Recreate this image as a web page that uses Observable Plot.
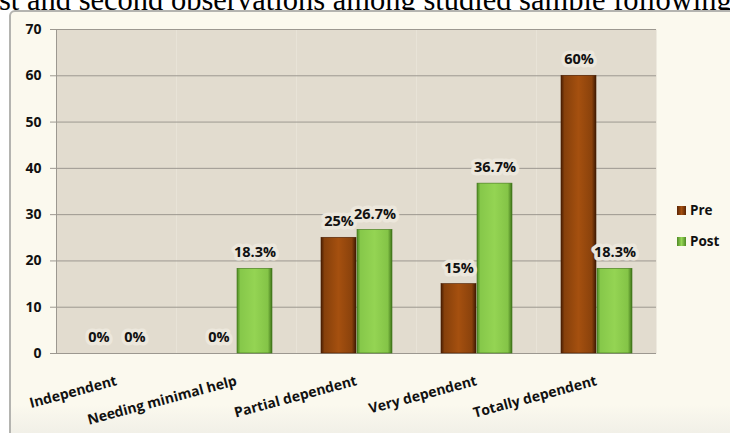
<!DOCTYPE html>
<html>
<head>
<meta charset="utf-8">
<script src="https://cdn.jsdelivr.net/npm/d3@7"></script>
<script src="https://cdn.jsdelivr.net/npm/@observablehq/plot@0.6"></script>
<style>
  html, body { margin: 0; padding: 0; background: #fff; }
  #wrap { position: relative; width: 730px; height: 433px; overflow: hidden; }
  #title { position: absolute; left: -1px; top: -15px; white-space: nowrap; line-height: 30px;
    font-family: "Liberation Serif", "DejaVu Serif", serif; font-size: 30.5px; color: #000; }
  #frame { position: absolute; left: 9px; top: 10px; width: 730px; height: 440px;
    background: linear-gradient(to bottom, #fbf9ee 0%, #fbf9ee 90%, #ecebe4 100%);
    border: 2px solid #b4b4b0; border-radius: 6px; box-sizing: border-box; }
  #chart { position: absolute; left: 0; top: 0; }
  #legend { position: absolute; left: 677px; top: 200px;
    font-family: "Open Sans", "Liberation Sans", sans-serif; font-weight: 700; font-size: 13.5px; color: #111; }
  #legend .item { display: flex; align-items: center; height: 20px; margin-bottom: 11px; }
  #legend .sw { width: 9px; height: 9px; margin-right: 4px; }
</style>
</head>
<body>
<div id="wrap">
  <div id="title">st and second observations among studied sample following</div>
  <div id="frame"></div>
  <div id="chart"></div>
  <div id="legend">
    <div class="item"><div class="sw" style="background:linear-gradient(to right,#5a2504,#a44f10,#5a2504)"></div>Pre</div>
    <div class="item"><div class="sw" style="background:linear-gradient(to right,#4f8a25,#95d655,#4f8a25)"></div>Post</div>
  </div>
</div>
<script>
const categories = ["Independent", "Needing minimal help", "Partial dependent", "Very dependent", "Totally dependent"];
const series = ["Pre", "Post"];
const preValues = [0, 0, 25, 15, 60];
const postValues = [0, 18.3, 26.7, 36.7, 18.3];
const preLabels = ["0%", "0%", "25%", "15%", "60%"];
const postLabels = ["0%", "18.3%", "26.7%", "36.7%", "18.3%"];
const yTicks = [0, 10, 20, 30, 40, 50, 60, 70];

const rows = [];
categories.forEach((c, i) => {
  rows.push({cat: c, series: "Pre", value: preValues[i], label: preLabels[i]});
  rows.push({cat: c, series: "Post", value: postValues[i], label: postLabels[i]});
});
const pre = rows.filter(d => d.series === "Pre");
const post = rows.filter(d => d.series === "Post");

const plot = Plot.plot({
  width: 730,
  height: 433,
  marginLeft: 55,
  marginRight: 73,
  marginTop: 29,
  marginBottom: 80,
  style: {background: "transparent", fontFamily: "'Open Sans', 'Liberation Sans', sans-serif", color: "#111"},
  fx: {domain: categories, padding: 0, label: null},
  x: {domain: series, paddingInner: 0.03, paddingOuter: 0.68, axis: null},
  y: {domain: [0, 70], ticks: yTicks, label: null},
  marks: [
    Plot.frame({fill: "#e2dccf", stroke: "none"}),
    Plot.gridY(yTicks, {stroke: "#9c9890", strokeOpacity: 1, strokeWidth: 1}),
    Plot.frame({anchor: "left", stroke: "#9c9890", facetAnchor: "left"}),
    Plot.ruleY([0], {stroke: "#9c9890"}),
    Plot.axisY(yTicks, {tickSize: 6, tickPadding: 9, stroke: "#9c9890", fontSize: 14, fontWeight: 700, label: null}),
    Plot.axisFx({anchor: "bottom", tickSize: 0, tickPadding: 27, tickRotate: -15, fontSize: 14, fontWeight: 700, label: null}),
    Plot.barY(pre, {fx: "cat", x: "series", y: "value", fill: "url(#gPre)", stroke: "#4a1e03", strokeWidth: 0.6}),
    Plot.barY(post, {fx: "cat", x: "series", y: "value", fill: "url(#gPost)", stroke: "#3f7419", strokeWidth: 0.6}),
    Plot.text(rows, {fx: "cat", x: "series", y: "value", text: "label", dy: -16,
      fontSize: 14.5, fontWeight: 700, fill: "#111", stroke: "#ece7dc", strokeWidth: 7})
  ]
});

const svg = d3.select(plot);
const defs = svg.insert("defs", ":first-child");
function grad(id, stops) {
  const g = defs.append("linearGradient").attr("id", id).attr("x1", "0").attr("x2", "1").attr("y1", "0").attr("y2", "0");
  stops.forEach(([o, c]) => g.append("stop").attr("offset", o).attr("stop-color", c));
}
grad("gPre", [["0", "#4a1e03"], ["0.1", "#86400b"], ["0.5", "#a5500f"], ["0.88", "#8a420c"], ["1", "#3e1902"]]);
grad("gPost", [["0", "#4f8a25"], ["0.1", "#86c84a"], ["0.5", "#94d453"], ["0.88", "#84c447"], ["1", "#3f7419"]]);

document.getElementById("chart").appendChild(plot);
</script>
</body>
</html>
